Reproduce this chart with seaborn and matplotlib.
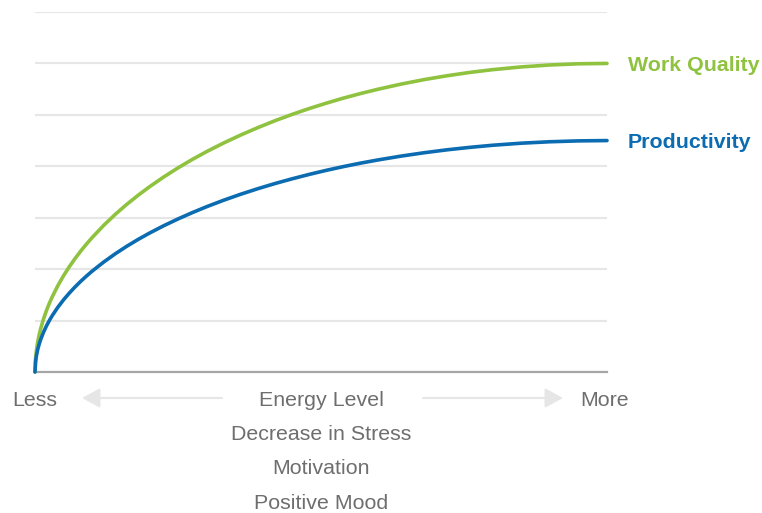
import matplotlib
matplotlib.use("Agg")
import matplotlib.pyplot as plt
import pandas as pd
import seaborn as sns

# Energy level positions (0 = less, 100 = more)
energy = [0, 0.1, 0.25, 0.5, 0.75, 1, 1.5, 2, 2.5, 3, 4, 5, 6, 7, 8, 9, 10,
          12, 14, 16, 18, 20, 22.5, 25, 27.5, 30, 33, 36, 39, 42, 45, 48, 51,
          54, 57, 60, 64, 68, 72, 76, 80, 85, 90, 95, 100]
work_quality = [0, 0.268, 0.424, 0.599, 0.733, 0.846, 1.035, 1.194, 1.333,
                1.459, 1.680, 1.874, 2.047, 2.205, 2.352, 2.488, 2.615, 2.850,
                3.062, 3.256, 3.434, 3.600, 3.792, 3.969, 4.133, 4.285, 4.454,
                4.610, 4.754, 4.888, 5.011, 5.125, 5.230, 5.328, 5.417, 5.499,
                5.598, 5.685, 5.760, 5.825, 5.879, 5.932, 5.970, 5.993, 6.000]
productivity = [0, 0.201, 0.318, 0.450, 0.550, 0.635, 0.776, 0.896, 1.000,
                1.094, 1.260, 1.405, 1.535, 1.654, 1.764, 1.866, 1.962, 2.137,
                2.296, 2.442, 2.576, 2.700, 2.844, 2.976, 3.099, 3.214, 3.341,
                3.458, 3.566, 3.666, 3.758, 3.844, 3.923, 3.996, 4.063, 4.124,
                4.198, 4.263, 4.320, 4.368, 4.409, 4.449, 4.477, 4.494, 4.500]
series_names = ["Work Quality", "Productivity"]
series_colors = ["#8fc23f", "#0c6cb2"]
end_labels = ["Less", "More"]
factor_labels = ["Energy Level", "Decrease in Stress", "Motivation", "Positive Mood"]

sns.set_theme(style="white")
plt.rcParams["font.family"] = ["Liberation Sans", "DejaVu Sans"]

W, H = 762, 513
fig = plt.figure(figsize=(W / 100, H / 100), dpi=100)
left, right, top, bottom = 35, 607, 12, 372
ax = fig.add_axes([left / W, 1 - bottom / H, (right - left) / W, (bottom - top) / H])

df = pd.concat([
    pd.DataFrame({"energy": energy, "value": work_quality, "series": series_names[0]}),
    pd.DataFrame({"energy": energy, "value": productivity, "series": series_names[1]}),
])
sns.lineplot(data=df, x="energy", y="value", hue="series",
             palette=dict(zip(series_names, series_colors)),
             linewidth=2.6, legend=False, ax=ax, clip_on=False, zorder=3)

ax.set_xlim(0, 100)
ax.set_ylim(0, 7)
ax.set_yticks(range(0, 8))
ax.set_xticks([])
ax.tick_params(left=False, bottom=False, labelleft=False, labelbottom=False)
ax.set_xlabel("")
ax.set_ylabel("")
ax.grid(axis="y", color="#e6e6e6", linewidth=1.5)
for side in ["top", "right", "left"]:
    ax.spines[side].set_visible(False)
ax.spines["bottom"].set_color("#a6a6a6")
ax.spines["bottom"].set_linewidth(1.6)
ax.spines["bottom"].set_zorder(2)

# Series names at the right end of each curve
for name, color, vals in zip(series_names, series_colors, [work_quality, productivity]):
    ax.annotate(name, xy=(energy[-1], vals[-1]), xytext=(15, -1.5),
                textcoords="offset points", va="center", ha="left",
                fontsize=15.4, fontweight="bold", color=color,
                annotation_clip=False)

# Bottom axis annotations
grey = "#6e6e6e"
def fx(px):
    return px / W

def fy(py):
    return 1 - py / H

fig.text(fx(34.5), fy(400.5), end_labels[0], ha="center", va="center",
         fontsize=15.4, color=grey)
fig.text(fx(605), fy(400.5), end_labels[1], ha="center", va="center",
         fontsize=15.4, color=grey)
for i, label in enumerate(factor_labels):
    fig.text(fx(321), fy(400.5 + 34.2 * i), label, ha="center", va="center",
             fontsize=15.4, color=grey)

arrow_style = dict(arrowstyle="-|>,head_length=0.55,head_width=0.3",
                   color="#e6e6e6", linewidth=1.5, mutation_scale=20,
                   shrinkA=0, shrinkB=0)
ax.annotate("", xy=(82, H - 398), xytext=(222, H - 398),
            xycoords="figure pixels", textcoords="figure pixels",
            arrowprops=arrow_style)
ax.annotate("", xy=(563, H - 398), xytext=(423, H - 398),
            xycoords="figure pixels", textcoords="figure pixels",
            arrowprops=arrow_style)

fig.savefig("out.png", dpi=100)
